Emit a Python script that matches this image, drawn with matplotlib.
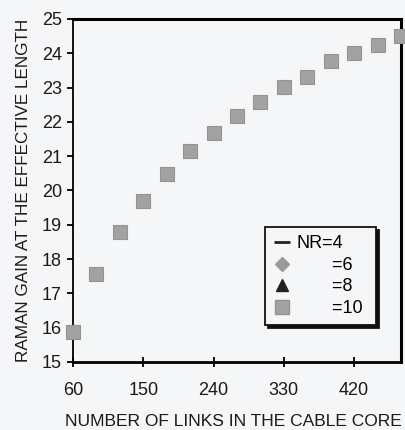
import matplotlib
matplotlib.use("Agg")
import matplotlib.pyplot as plt
from matplotlib.lines import Line2D

links = [60, 90, 120, 150, 180, 210, 240, 270, 300, 330, 360, 390, 420, 450, 480]
gain_nr10 = [15.88, 17.56, 18.79, 19.7, 20.47, 21.15, 21.67, 22.18, 22.57, 23.03,
             23.32, 23.78, 24.0, 24.23, 24.5]
xticks = [60, 150, 240, 330, 420]
yticks = [15, 16, 17, 18, 19, 20, 21, 22, 23, 24, 25]
legend_labels = ["NR=4", "       =6", "       =8", "       =10"]

plt.rcParams['font.family'] = ['Liberation Sans', 'DejaVu Sans']

bg = '#f5f6f8'
fig = plt.figure(figsize=(4.06, 4.30), dpi=100, facecolor=bg)
ax = fig.add_axes([73/406, 1 - 362/430, (401 - 73)/406, (362 - 19)/430], facecolor=bg)

ax.plot(links, gain_nr10, linestyle='none', marker='s', markersize=10,
        markerfacecolor='#a2a2a2', markeredgecolor='#939393', markeredgewidth=0.8,
        clip_on=False, zorder=3)

ax.set_xlim(60, 480)
ax.set_ylim(15, 25)
ax.set_xticks(xticks)
ax.set_yticks(yticks)
ax.tick_params(axis='x', direction='inout', length=7, width=1.3, labelsize=13, pad=11)
ax.tick_params(axis='y', direction='out', length=4, width=1.3, labelsize=13, pad=4)
for lbl in ax.get_xticklabels() + ax.get_yticklabels():
    lbl.set_color('#1a1a1a')

ax.spines['left'].set_linewidth(1.3)
ax.spines['bottom'].set_linewidth(2.0)
ax.spines['top'].set_linewidth(2.2)
ax.spines['right'].set_linewidth(2.2)

ax.set_xlabel("NUMBER OF LINKS IN THE CABLE CORE", fontsize=12.5, color='#1a1a1a',
              labelpad=11, ha='left', x=-0.025)
ax.set_ylabel("RAMAN GAIN AT THE EFFECTIVE LENGTH", fontsize=12.3, color='#1a1a1a',
              labelpad=8)

handles = [
    Line2D([], [], color='#222222', linestyle='none', marker='_', markersize=11, markeredgewidth=2),
    Line2D([], [], color='#9a9a9a', linestyle='none', marker='D', markersize=7),
    Line2D([], [], color='#222222', linestyle='none', marker='^', markersize=9),
    Line2D([], [], color='#a2a2a2', linestyle='none', marker='s', markersize=10,
           markeredgecolor='#939393'),
]
leg = ax.legend(handles, legend_labels, loc='lower left',
                bbox_to_anchor=((265 - 73) / 328, (362 - 325) / 343,
                                (376 - 265) / 328, (325 - 226) / 343),
                mode='expand', fancybox=False, shadow={'color': '#111111', 'alpha': 1.0},
                frameon=True, fontsize=13, handlelength=1.0, handletextpad=0.3,
                borderpad=0.45, labelspacing=0.25, borderaxespad=0)
leg.get_frame().set_edgecolor('#111111')
leg.get_frame().set_linewidth(1.3)
leg.get_frame().set_facecolor(bg)

fig.savefig("out.png", dpi=100, facecolor=bg)
